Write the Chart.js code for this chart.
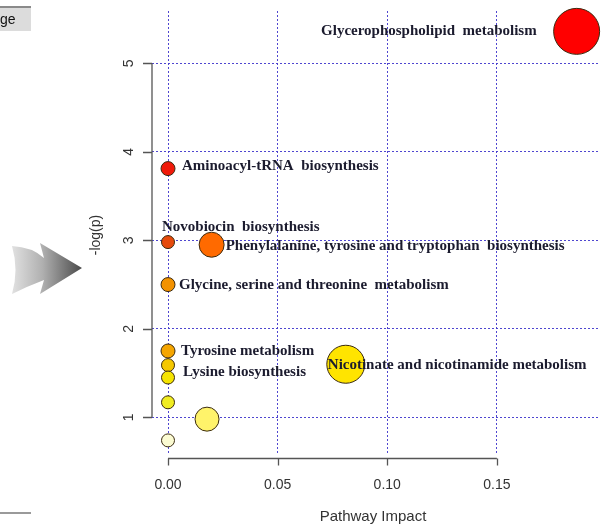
<!DOCTYPE html>
<html>
<head>
<meta charset="utf-8">
<script src="https://cdn.jsdelivr.net/npm/chart.js@4/dist/chart.umd.min.js"></script>
<style>
  html, body { margin: 0; padding: 0; background: #ffffff; }
  #wrap { width: 604px; height: 529px; position: relative; }
  canvas { display: block; }
</style>
</head>
<body>
<div id="wrap"><canvas id="c" width="604" height="529"></canvas></div>
<script>
// Pathway analysis: impact vs. -log(p)
const pathwayNames = [
  'Glycerophospholipid  metabolism',
  'Aminoacyl-tRNA  biosynthesis',
  'Novobiocin  biosynthesis',
  'Phenylalanine, tyrosine and tryptophan  biosynthesis',
  'Glycine, serine and threonine  metabolism',
  'Tyrosine metabolism',
  '',
  'Lysine biosynthesis',
  '',
  '',
  '',
  'Nicotinate and nicotinamide metabolism'
];
const pathwayImpact = [0.1864, 0.0, 0.0, 0.0199, 0.0, 0.0, 0.0, 0.0, 0.0, 0.0178, 0.0, 0.0811];
const negLogP      = [5.36, 3.81, 2.98, 2.95, 2.50, 1.75, 1.59, 1.45, 1.17, 0.98, 0.74, 1.60];
const xTicks = [0.00, 0.05, 0.10, 0.15];
const yTicks = [1, 2, 3, 4, 5];

// node radius in px and heat colour for each pathway
const nodeRadius = [23, 7, 6.5, 12.5, 7, 7, 6.5, 6.5, 6.5, 12, 6.5, 19];
const nodeColor = ['#ff0000', '#f01a0a', '#e64a0c', '#ff6a00', '#f39200', '#f5a500',
                   '#f5c800', '#f5e400', '#f0ec20', '#fff36a', '#fbfbd2', '#ffe400'];
// label anchor: dx, dy from node centre, text alignment
const labelPlace = [
  [-40, 0, 'right'], [14, -2, 'left'], [-6, -15, 'left'], [14, 1, 'left'],
  [11, 1, 'left'], [13, 0, 'left'], [0, 0, 'left'], [15, -5, 'left'],
  [0, 0, 'left'], [0, 0, 'left'], [0, 0, 'left'], [-18, 1, 'left']
];

const gridColor = 'rgba(70,60,205,0.95)';
const sansFont = '"Liberation Sans", Arial, sans-serif';
const serifFont = '"Liberation Serif", "Times New Roman", serif';

const sidePanel = {
  id: 'sidePanel',
  beforeDraw(chart) {
    const ctx = chart.ctx;
    ctx.save();
    // tab fragment, top left
    ctx.fillStyle = '#dcdcdc';
    ctx.fillRect(0, 8, 31, 23);
    ctx.fillStyle = '#8a8a8a';
    ctx.fillRect(0, 6, 31, 2);
    ctx.fillStyle = '#111';
    ctx.font = '14px ' + sansFont;
    ctx.textBaseline = 'alphabetic';
    ctx.fillText('ge', 0, 24);
    // separator, bottom left
    ctx.fillStyle = '#9a9a9a';
    ctx.fillRect(0, 512, 31, 2);
    // shaded arrow
    const g = ctx.createLinearGradient(10, 0, 82, 0);
    g.addColorStop(0, '#e4e4e4');
    g.addColorStop(0.45, '#b0b0b0');
    g.addColorStop(1, '#4a4a4a');
    ctx.beginPath();
    ctx.moveTo(12, 246);
    ctx.quadraticCurveTo(32, 247, 44, 258);
    ctx.lineTo(40, 243);
    ctx.lineTo(82, 268);
    ctx.lineTo(40, 294);
    ctx.lineTo(44, 280);
    ctx.quadraticCurveTo(28, 286, 12, 294);
    ctx.quadraticCurveTo(19, 270, 12, 246);
    ctx.closePath();
    ctx.fillStyle = g;
    ctx.fill();
    ctx.restore();
  }
};

const rAxes = {
  id: 'rAxes',
  afterDraw(chart) {
    const ctx = chart.ctx;
    const xs = chart.scales.x, ys = chart.scales.y;
    const area = chart.chartArea;
    ctx.save();
    ctx.strokeStyle = '#555';
    ctx.lineWidth = 1.3;
    ctx.fillStyle = '#333';
    ctx.font = '14px ' + sansFont;

    // x axis
    const yAx = area.bottom + 3.5;
    ctx.beginPath();
    ctx.moveTo(xs.getPixelForValue(xTicks[0]), yAx);
    ctx.lineTo(xs.getPixelForValue(xTicks[xTicks.length - 1]), yAx);
    xTicks.forEach(v => {
      const px = Math.round(xs.getPixelForValue(v)) + 0.5;
      ctx.moveTo(px, yAx);
      ctx.lineTo(px, yAx + 7);
    });
    ctx.stroke();
    ctx.textAlign = 'center';
    ctx.textBaseline = 'middle';
    xTicks.forEach(v => ctx.fillText(v.toFixed(2), xs.getPixelForValue(v), 485));
    ctx.font = '15px ' + sansFont;
    ctx.fillText('Pathway Impact', 373, 517);

    // y axis
    const xAx = area.left;
    ctx.beginPath();
    ctx.moveTo(xAx, ys.getPixelForValue(yTicks[0]));
    ctx.lineTo(xAx, ys.getPixelForValue(yTicks[yTicks.length - 1]));
    yTicks.forEach(v => {
      const py = Math.round(ys.getPixelForValue(v)) + 0.5;
      ctx.moveTo(xAx, py);
      ctx.lineTo(xAx - 9, py);
    });
    ctx.stroke();
    ctx.font = '14px ' + sansFont;
    yTicks.forEach(v => {
      ctx.save();
      ctx.translate(129, ys.getPixelForValue(v));
      ctx.rotate(-Math.PI / 2);
      ctx.fillText(String(v), 0, 0);
      ctx.restore();
    });
    ctx.save();
    ctx.translate(96, 235);
    ctx.rotate(-Math.PI / 2);
    ctx.fillText('-log(p)', 0, 0);
    ctx.restore();

    // pathway labels
    ctx.font = 'bold 15px ' + serifFont;
    ctx.fillStyle = '#1b1b2e';
    ctx.textBaseline = 'middle';
    pathwayNames.forEach((name, i) => {
      if (!name) return;
      const [dx, dy, align] = labelPlace[i];
      ctx.textAlign = align;
      ctx.fillText(name, xs.getPixelForValue(pathwayImpact[i]) + dx,
                   ys.getPixelForValue(negLogP[i]) + dy);
    });
    ctx.restore();
  }
};

new Chart(document.getElementById('c'), {
  type: 'bubble',
  data: {
    datasets: [{
      data: pathwayImpact.map((x, i) => ({ x: x, y: negLogP[i], r: nodeRadius[i] })),
      backgroundColor: nodeColor,
      borderColor: '#3a2a10',
      borderWidth: 1,
      clip: false
    }]
  },
  options: {
    responsive: false,
    animation: false,
    layout: { autoPadding: false, padding: { left: 152, right: 5, top: 11, bottom: 74 } },
    plugins: { legend: { display: false }, tooltip: { enabled: false } },
    elements: { point: { hoverRadius: 0 } },
    scales: {
      x: {
        type: 'linear', min: -0.0073, max: 0.1966,
        afterBuildTicks: s => { s.ticks = xTicks.map(v => ({ value: v })); },
        ticks: { display: false },
        grid: { color: gridColor, lineWidth: 1, drawTicks: false },
        border: { display: false, dash: [2, 2] }
      },
      y: {
        type: 'linear', min: 0.575, max: 5.59,
        afterBuildTicks: s => { s.ticks = yTicks.map(v => ({ value: v })); },
        ticks: { display: false },
        grid: { color: gridColor, lineWidth: 1, drawTicks: false },
        border: { display: false, dash: [2, 2] }
      }
    }
  },
  plugins: [sidePanel, rAxes]
});
</script>
</body>
</html>
